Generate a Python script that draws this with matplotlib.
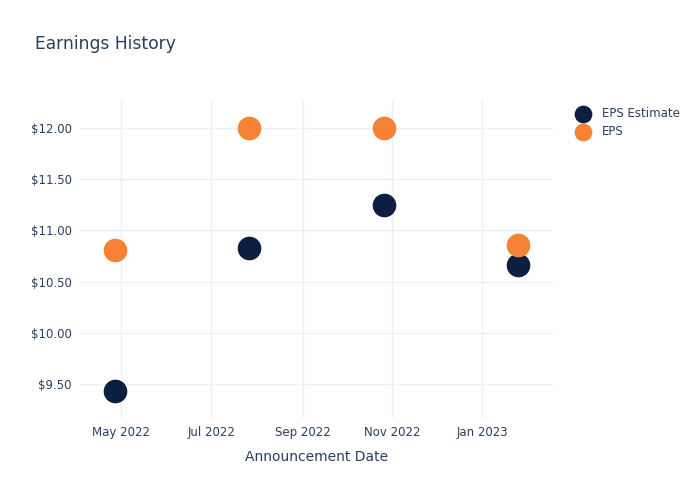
import matplotlib
matplotlib.use("Agg")
import matplotlib.pyplot as plt
import matplotlib.dates as mdates
import matplotlib.ticker as mticker
import datetime as dt

# Announcement dates and EPS values
dates = [dt.date(2022, 4, 27), dt.date(2022, 7, 27), dt.date(2022, 10, 26), dt.date(2023, 1, 25)]
eps_estimate = [9.43, 10.83, 11.25, 10.66]
eps_actual = [10.81, 12.00, 12.00, 10.86]

text_color = "#2a3f5f"
grid_color = "#ebf0f8"

fig = plt.figure(figsize=(7, 5), dpi=100)
ax = fig.add_axes([80 / 700, 1 - 418 / 500, (553 - 80) / 700, (418 - 100) / 500])

ax.scatter(dates, eps_estimate, s=290, color="#0c1f40", label="EPS Estimate", zorder=3, linewidths=0)
ax.scatter(dates, eps_actual, s=290, color="#f68335", label="EPS", zorder=3, linewidths=0)

ax.set_xlim(dt.date(2022, 4, 3), dt.date(2023, 2, 18))
ax.set_ylim(9.17, 12.27)

ax.xaxis.set_major_locator(mdates.MonthLocator(bymonth=[1, 3, 5, 7, 9, 11]))
ax.xaxis.set_major_formatter(mdates.DateFormatter("%b %Y"))
ax.set_yticks([9.5, 10.0, 10.5, 11.0, 11.5, 12.0])
ax.yaxis.set_major_formatter(mticker.FuncFormatter(lambda v, p: f"${v:.2f}"))

ax.grid(True, color=grid_color, linewidth=1)
ax.set_axisbelow(True)
for s in ax.spines.values():
    s.set_visible(False)
ax.tick_params(length=0, colors=text_color, labelsize=8.5, pad=6)

ax.set_xlabel("Announcement Date", color=text_color, fontsize=10, labelpad=8)
fig.text(35 / 700, 1 - 44 / 500, "Earnings History", color=text_color, fontsize=12.3, va="center")

leg = ax.legend(loc="upper left", bbox_to_anchor=(1.017, 1.012), frameon=False,
                fontsize=8.5, labelcolor=text_color, markerscale=0.75,
                handletextpad=0.6, labelspacing=0.45)

fig.savefig("out.png", dpi=100)
